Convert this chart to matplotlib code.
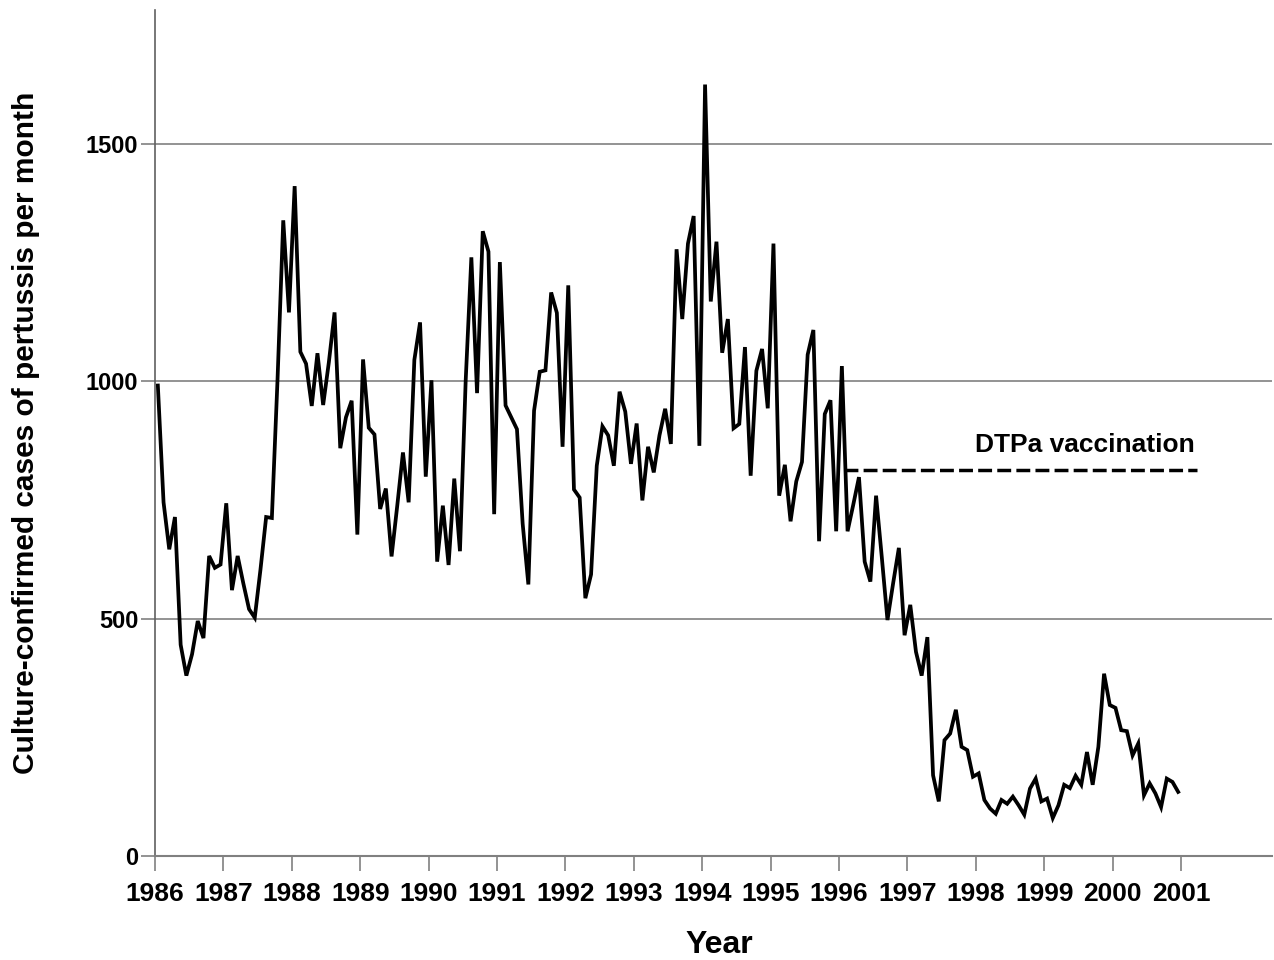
import matplotlib
matplotlib.use("Agg")
import matplotlib.pyplot as plt
import numpy as np

plt.rcParams['font.family'] = ['Liberation Sans', 'DejaVu Sans']

# Monthly culture-confirmed pertussis cases, Jan 1986 - Dec 2000
cases = [
    # 1986
    991, 745, 646, 714, 445, 380, 425, 495, 459, 632, 607, 614,
    # 1987
    743, 560, 632, 574, 520, 502, 603, 714, 712, 1005, 1339, 1145,
    # 1988
    1411, 1062, 1037, 948, 1059, 950, 1040, 1145, 859, 924, 959, 677,
    # 1989
    1046, 902, 888, 731, 774, 631, 738, 850, 745, 1045, 1124, 799,
    # 1990
    1002, 620, 738, 613, 795, 642, 1000, 1261, 975, 1316, 1273, 720,
    # 1991
    1251, 949, 924, 899, 700, 572, 938, 1020, 1023, 1187, 1144, 862,
    # 1992
    1202, 772, 755, 543, 593, 822, 905, 886, 822, 978, 936, 826,
    # 1993
    911, 749, 862, 808, 886, 942, 868, 1278, 1131, 1290, 1348, 864,
    # 1994
    1625, 1168, 1294, 1060, 1131, 901, 910, 1072, 801, 1022, 1068, 943,
    # 1995
    1290, 759, 824, 705, 789, 830, 1056, 1108, 663, 931, 960, 684,
    # 1996
    1032, 684, 740, 798, 620, 578, 759, 630, 497, 575, 649, 465,
    # 1997
    529, 430, 380, 461, 170, 115, 244, 258, 308, 230, 223, 167,
    # 1998
    174, 118, 100, 89, 118, 110, 125, 107, 87, 142, 163, 115,
    # 1999
    121, 80, 107, 150, 143, 169, 150, 219, 150, 230, 384, 318,
    # 2000
    312, 265, 263, 212, 237, 128, 153, 132, 103, 163, 156, 135,
]
start_year = 1986
year_ticks = list(range(1986, 2002))
y_ticks = [0, 500, 1000, 1500]

vacc_label = "DTPa vaccination"
vacc_level = 813
vacc_start = 1996.08
vacc_end = 2001.24

months = np.arange(len(cases))
x = start_year + (months + 0.5) / 12.0

fig = plt.figure(figsize=(12.74, 9.6), dpi=100)
ax = fig.add_axes([155/1274, 1 - 856/960, (1272-155)/1274, (856-10)/960])

for v in y_ticks[1:]:
    ax.axhline(v, color='#808080', lw=1.2, zorder=1)

ax.plot(x, cases, color='black', lw=2.7, solid_joinstyle='miter', zorder=3)

ax.plot([vacc_start, vacc_end], [vacc_level, vacc_level], color='black',
        lw=2.5, dashes=(4.0, 1.5), zorder=3)
ax.text(vacc_end - 0.04, 851, vacc_label, ha='right', va='baseline',
        fontsize=19, fontweight='bold')

ax.set_xlim(1986, 2002.33)
ax.set_ylim(0, 1782)
ax.set_xticks(year_ticks)
ax.set_xticklabels([str(y) for y in year_ticks])
ax.set_yticks(y_ticks)

for s in ['top', 'right']:
    ax.spines[s].set_visible(False)
ax.spines['left'].set_color('#606060')
ax.spines['bottom'].set_color('#808080')
ax.spines['left'].set_linewidth(1.2)
ax.spines['bottom'].set_linewidth(1.5)

ax.tick_params(axis='x', direction='out', length=11, width=1.2, color='#808080',
               labelsize=19, pad=8)
ax.tick_params(axis='y', direction='out', length=10, width=1.2, color='#808080',
               labelsize=17, pad=2)
for lab in ax.get_xticklabels() + ax.get_yticklabels():
    lab.set_fontweight('bold')

ax.set_xlabel('Year', fontsize=23, fontweight='bold')
ax.xaxis.set_label_coords(0.505, -0.088)
ax.set_ylabel('Culture-confirmed cases of pertussis per month', fontsize=21.5,
              fontweight='bold')
ax.yaxis.set_label_coords(-0.103, 0.5)

fig.savefig('out.png', dpi=100)
